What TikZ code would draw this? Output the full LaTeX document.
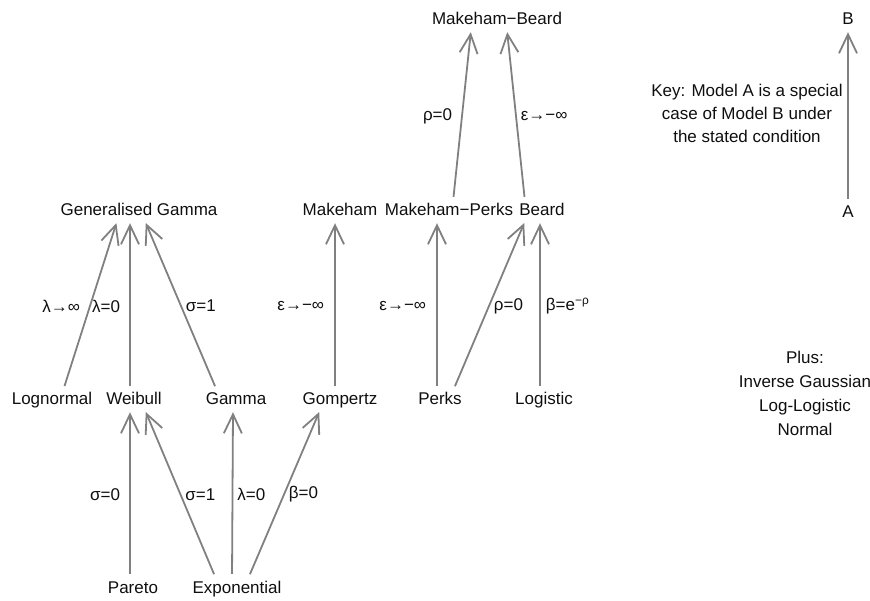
\documentclass[tikz,border=0pt]{standalone}
\usepackage{fontspec}
\setmainfont{Liberation Sans}
\usetikzlibrary{arrows.meta, positioning}
\definecolor{linegray}{RGB}{128,128,128}
\definecolor{textdark}{RGB}{15,15,15}

\begin{document}
\begin{tikzpicture}[
  x=1pt, y=-1pt,
  font=\fontsize{17}{23}\selectfont,
  model/.style={anchor=base, text height=13pt, text depth=4pt, inner sep=1pt, text=textdark},
  cond/.style={inner sep=1pt, text=textdark},
  rel/.style={draw=linegray, line width=1.8pt, -{Straight Barb[length=19pt,width=18pt]}, shorten <=5pt, shorten >=2pt}
]
\useasboundingbox (0,0) rectangle (870,601);

% models, top to bottom
\node[model] (makbeard) at (497,25) {Makeham−Beard};
\node[model] (gengamma) at (139,216) {Generalised Gamma};
\node[model] (makeham) at (340,216) {Makeham};
\node[model] (makperks) at (449,216) {Makeham−Perks};
\node[model] (beard) at (542,216) {Beard};
\node[model] (lognormal) at (52,405) {Lognormal};
\node[model] (weibull) at (134,405) {Weibull};
\node[model] (gamma) at (236,405) {Gamma};
\node[model] (gompertz) at (340,405) {Gompertz};
\node[model] (perks) at (440,405) {Perks};
\node[model] (logistic) at (544,405) {Logistic};
\node[model] (pareto) at (133,593) {Pareto};
\node[model] (expo) at (237,593) {Exponential};

% key
\node[model] (keyb) at (848,25) {B};
\node[model] (keya) at (848,218) {A};
\node[cond, align=center] (keytext) at (747,113) {Key: Model A is a special\\case of Model B under\\the stated condition};
\node[cond, align=center, font=\fontsize{17}{24}\selectfont] (plus) at (805,393) {Plus:\\Inverse Gaussian\\Log-Logistic\\Normal};

% special cases
\draw[rel] ([xshift=11pt]lognormal.north) -- node[cond, left=8pt]{λ→∞} ([xshift=-22pt]gengamma.south);
\draw[rel] ([xshift=-4pt]weibull.north) -- node[cond, left=8pt]{λ=0} ([xshift=-9pt]gengamma.south);
\draw[rel] ([xshift=-19pt]gamma.north) -- node[cond, right=3pt]{σ=1} ([xshift=6pt]gengamma.south);
\draw[rel] ([xshift=-5pt]gompertz.north) -- node[cond, left=9pt]{ε→−∞} ([xshift=-5pt]makeham.south);
\draw[rel] ([xshift=-3pt]perks.north) -- node[cond, left=9pt]{ε→−∞} ([xshift=-12pt]makperks.south);
\draw[rel] ([xshift=13pt]perks.north) -- node[cond, right=3pt]{ρ=0} ([xshift=-17pt]beard.south);
\draw[rel] ([xshift=-4pt]logistic.north) -- node[cond, right=4pt]{β=e\textsuperscript{−ρ}} ([xshift=-2pt]beard.south);
\draw[rel] ([xshift=4pt]makperks.north) -- node[cond, left=8pt]{ρ=0} ([xshift=-26pt]makbeard.south);
\draw[rel] ([xshift=-17pt]beard.north) -- node[cond, right=3pt]{ε→−∞} ([xshift=10pt]makbeard.south);
\draw[rel] ([xshift=-3pt]pareto.north) -- node[cond, left=8pt]{σ=0} ([xshift=-4pt]weibull.south);
\draw[rel] ([xshift=-21pt]expo.north) -- node[cond, right=3pt]{σ=1} ([xshift=11pt]weibull.south);
\draw[rel] ([xshift=-5pt]expo.north) -- node[cond, right=3pt]{λ=0} ([xshift=-3pt]gamma.south);
\draw[rel] ([xshift=11pt]expo.north) -- node[cond, right=3pt]{β=0} ([xshift=-20pt]gompertz.south);
\draw[rel] (keya.north) -- (keyb.south);
\end{tikzpicture}
\end{document}
